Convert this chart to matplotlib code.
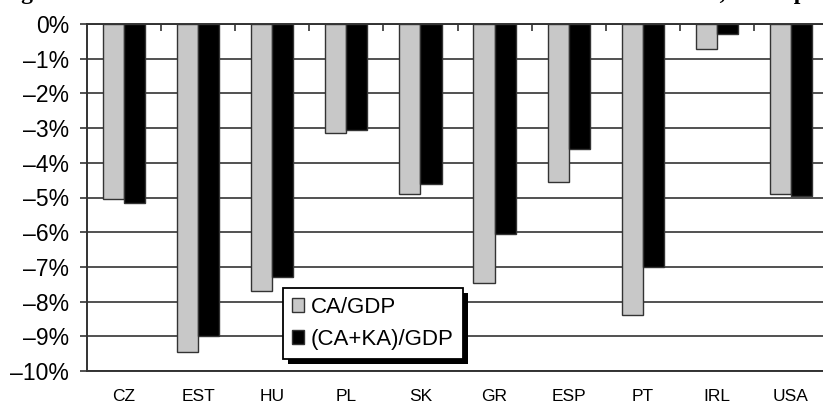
import matplotlib
matplotlib.use("Agg")
import matplotlib.pyplot as plt
import numpy as np
from matplotlib.patches import Rectangle

countries = ["CZ", "EST", "HU", "PL", "SK", "GR", "ESP", "PT", "IRL", "USA"]
ca_gdp = [-5.05, -9.45, -7.7, -3.15, -4.9, -7.45, -4.55, -8.4, -0.72, -4.9]
caka_gdp = [-5.15, -9.0, -7.3, -3.05, -4.6, -6.05, -3.6, -7.0, -0.3, -4.95]
yticks = [0, -1, -2, -3, -4, -5, -6, -7, -8, -9, -10]
ytick_labels = ["0%", "–1%", "–2%", "–3%", "–4%", "–5%", "–6%", "–7%", "–8%", "–9%", "–10%"]
series_names = ["CA/GDP", "(CA+KA)/GDP"]

plt.rcParams['font.family'] = ['Liberation Sans', 'DejaVu Sans']

fig = plt.figure(figsize=(8.23, 4.07), dpi=100)
ax = fig.add_axes([87/823, 36/407, 741/823, 347/407])

x = np.arange(len(countries))
w = 0.285
ax.bar(x - w/2, ca_gdp, w, color="#c8c8c8", edgecolor="#333333", linewidth=1.0,
       label=series_names[0], zorder=3)
ax.bar(x + w/2, caka_gdp, w, color="black", edgecolor="#333333", linewidth=1.0,
       label=series_names[1], zorder=3)

ax.set_xlim(-0.5, len(countries) - 0.5)
ax.set_ylim(-10, 0)
ax.set_yticks(yticks)
ax.set_yticklabels(ytick_labels, fontsize=16.5)
ax.yaxis.grid(True, color="#333333", linewidth=1.2, zorder=1)
ax.set_axisbelow(True)

ax.set_xticks(x)
ax.set_xticklabels(countries, fontsize=12.5)
ax.tick_params(axis='x', which='major', length=0, pad=13)
ax.set_xticks(np.arange(0.5, len(countries) - 0.5, 1.0), minor=True)
ax.tick_params(axis='x', which='minor', top=True, bottom=False, direction='in',
               length=5, width=1.2, color="#333333")
ax.tick_params(axis='y', length=5, width=1.2, color="#333333", pad=8)

for s in ["left", "bottom", "top"]:
    ax.spines[s].set_color("#333333")
    ax.spines[s].set_linewidth(1.4)
ax.spines["right"].set_visible(False)

leg = ax.legend(loc="upper left", bbox_to_anchor=((283-87)/741, (371-288)/347),
                borderaxespad=0, fancybox=False, frameon=True, fontsize=16,
                handlelength=0.55, handleheight=0.55, handletextpad=0.3,
                labelspacing=0.5, borderpad=0.4, framealpha=1,
                edgecolor="black")
leg.get_frame().set_linewidth(1.3)
leg.set_zorder(6)

fig.canvas.draw()
bb = leg.get_window_extent()
inv = fig.transFigure.inverted()
(x0, y0) = inv.transform((bb.x0 + 5, bb.y0 - 5))
(x1, y1) = inv.transform((bb.x1 + 5, bb.y1 - 5))
shadow = Rectangle((x0, y0), x1 - x0, y1 - y0, transform=fig.transFigure,
                   facecolor="black", edgecolor="none", zorder=5.5, clip_on=False)
ax.add_artist(shadow)

fig.text(0.0, 1 + 1/407,
         "Figure 6.3  Current account in the CEE countries and the United States, boom period relative against",
         fontsize=17, family=['Liberation Serif', 'DejaVu Serif'], weight='bold',
         va='baseline', ha='left')

fig.savefig("out.png", dpi=100)
